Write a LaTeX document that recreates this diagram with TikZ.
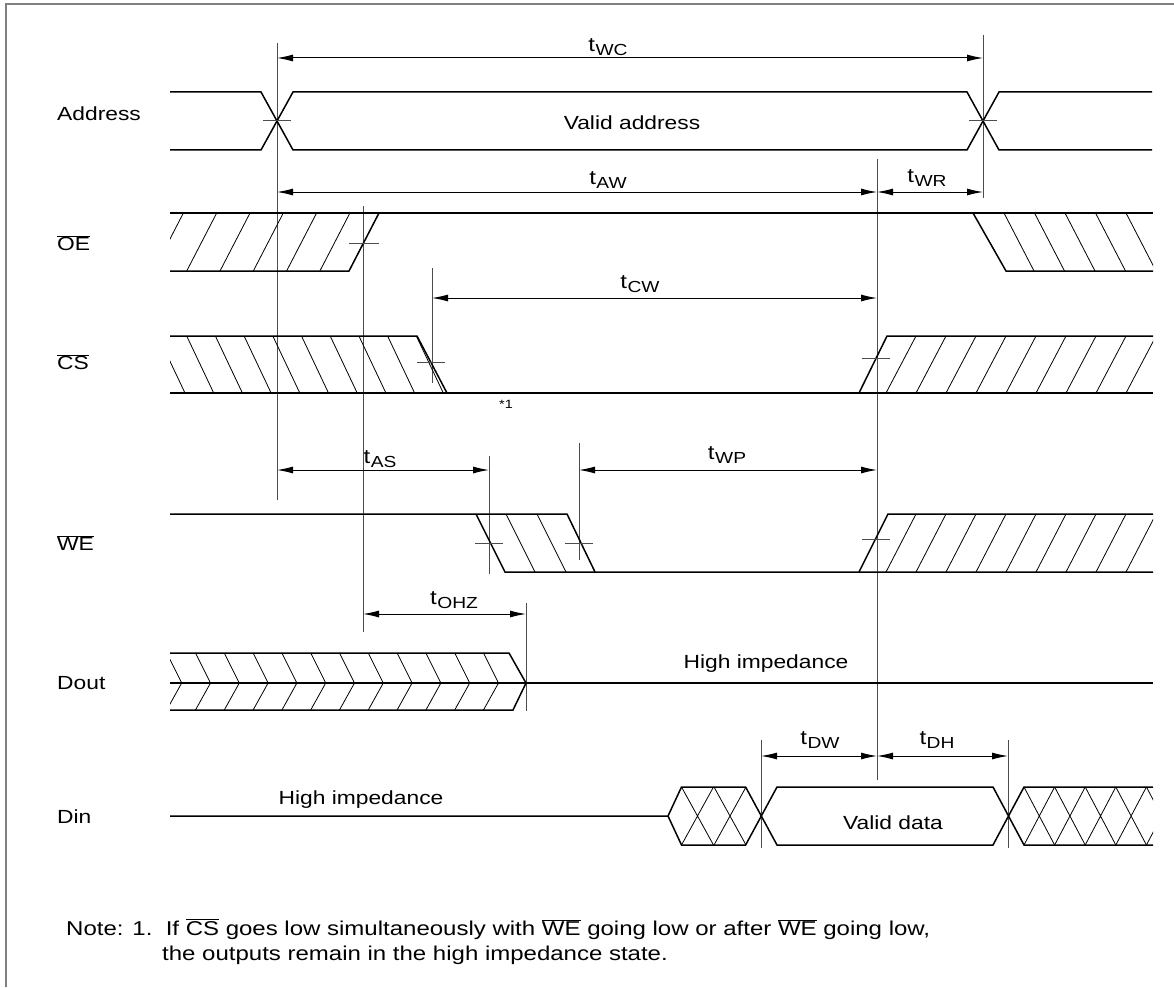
\documentclass[tikz,border=0pt]{standalone}
\usepackage{fontspec}
\setmainfont{Liberation Sans}[FakeStretch=1.2]
\usetikzlibrary{arrows.meta}
\tikzset{
	sig/.style={line width=1.5pt, line join=miter},
	hatch/.style={line width=0.8pt},
	guide/.style={line width=1pt, black!70},
	tick/.style={line width=1pt, black!70},
	dim/.style={line width=1pt, {Latex[length=16pt,width=7pt]}-{Latex[length=16pt,width=7pt]}},
	lbl/.style={anchor=west, inner sep=0pt, font=\fontsize{19}{19}\selectfont},
	txt/.style={inner sep=0pt, font=\fontsize{19}{19}\selectfont},
	notetxt/.style={anchor=base west, inner sep=0pt, font=\fontsize{20}{20}\selectfont},
	frame/.style={line width=1.2pt, black!50}
}
\newcommand{\tlab}[1]{{\fontsize{20}{20}\selectfont t}\kern0.5pt\raisebox{-0.35ex}{\fontsize{16}{16}\selectfont #1}}
\newcommand{\ovl}[1]{$\overline{\mbox{#1}}$}
\begin{document}
\begin{tikzpicture}[x=1pt,y=-1pt]
		\useasboundingbox (0,0) rectangle (1174,987);
		% рамка
		\draw [frame] ( 6, 987 ) -- ( 6, 4 ) -- ( 1174, 4 );

		% вертикальные линии отсчета
		\draw [guide] ( 277, 43 ) -- ( 277, 500 );
		\draw [guide] ( 983, 35 ) -- ( 983, 198 );
		\draw [guide] ( 877, 159 ) -- ( 877, 780 );
		\draw [guide] ( 363, 206 ) -- ( 363, 632 );
		\draw [guide] ( 432, 268 ) -- ( 432, 383 );
		\draw [guide] ( 489, 456 ) -- ( 489, 574 );
		\draw [guide] ( 579, 443 ) -- ( 579, 560 );
		\draw [guide] ( 526, 603 ) -- ( 526, 711 );
		\draw [guide] ( 761, 740 ) -- ( 761, 848 );
		\draw [guide] ( 1008, 740 ) -- ( 1008, 848 );

		% Address
		\node [lbl] (laddr) at ( 57, 114 ) {Address};
		\draw [sig] ( 170, 92 ) -- ( 261, 92 ) -- ( 293, 150 ) -- ( 967, 150 ) -- ( 999, 92 ) -- ( 1152, 92 );
		\draw [sig] ( 170, 150 ) -- ( 261, 150 ) -- ( 293, 92 ) -- ( 967, 92 ) -- ( 999, 150 ) -- ( 1152, 150 );
		\draw [tick] ( 263, 121 ) -- ( 291, 121 );
		\draw [tick] ( 969, 121 ) -- ( 997, 121 );
		\node [txt] (vaddr) at ( 632, 123 ) {Valid address};

		% OE
		\node [lbl] (loe) at ( 57, 243 ) {\ovl{OE}};
		\draw [sig] ( 170, 213 ) -- ( 1153, 213 );
		\draw [sig] ( 379, 213 ) -- ( 349, 271 ) -- ( 170, 271 );
		\draw [sig] ( 973, 213 ) -- ( 1006, 271 ) -- ( 1153, 271 );
		\begin{scope}
			\clip ( 170, 213 ) -- ( 379, 213 ) -- ( 349, 271 ) -- ( 170, 271 ) -- cycle;
			\foreach \x in {153.4,186.7,...,360} \draw [hatch] ( \x, 271 ) -- ++( 30, -58 );
		\end{scope}
		\begin{scope}
			\clip ( 973, 213 ) -- ( 1153, 213 ) -- ( 1153, 271 ) -- ( 1006, 271 ) -- cycle;
			\foreach \x in {1004,1034.5,...,1160} \draw [hatch] ( \x, 213 ) -- ++( 30, 58 );
		\end{scope}
		\draw [tick] ( 349, 243 ) -- ( 379, 243 );

		% CS
		\node [lbl] (lcs) at ( 57, 362 ) {\ovl{CS}};
		\draw [sig] ( 170, 336 ) -- ( 417, 336 ) -- ( 447, 393 );
		\draw [sig] ( 170, 393 ) -- ( 1153, 393 );
		\draw [sig] ( 859, 393 ) -- ( 887, 336 ) -- ( 1153, 336 );
		\begin{scope}
			\clip ( 170, 336 ) -- ( 417, 336 ) -- ( 447, 393 ) -- ( 170, 393 ) -- cycle;
			\foreach \x in {129.3,158,...,420} \draw [hatch] ( \x, 336 ) -- ++( 27, 57 );
		\end{scope}
		\begin{scope}
			\clip ( 859, 393 ) -- ( 887, 336 ) -- ( 1153, 336 ) -- ( 1153, 393 ) -- cycle;
			\foreach \x in {856,886,...,1160} \draw [hatch] ( \x, 393 ) -- ++( 30, -57 );
		\end{scope}
		\draw [tick] ( 417, 362 ) -- ( 445, 362 );
		\draw [tick] ( 862, 358 ) -- ( 890, 358 );
		\node [font=\fontsize{12}{12}\selectfont, inner sep=0pt] (note1) at ( 506, 404 ) {*1};

		% WE
		\node [lbl] (lwe) at ( 57, 543 ) {\ovl{WE}};
		\draw [sig] ( 170, 514 ) -- ( 567, 514 ) -- ( 595, 572 );
		\draw [sig] ( 476, 514 ) -- ( 505, 572 ) -- ( 1153, 572 );
		\draw [sig] ( 859, 572 ) -- ( 888, 514 ) -- ( 1153, 514 );
		\begin{scope}
			\clip ( 476, 514 ) -- ( 567, 514 ) -- ( 595, 572 ) -- ( 505, 572 ) -- cycle;
			\foreach \x in {506,537} \draw [hatch] ( \x, 514 ) -- ++( 29, 58 );
		\end{scope}
		\begin{scope}
			\clip ( 859, 572 ) -- ( 888, 514 ) -- ( 1153, 514 ) -- ( 1153, 572 ) -- cycle;
			\foreach \x in {856,886,...,1160} \draw [hatch] ( \x, 572 ) -- ++( 30, -58 );
		\end{scope}
		\draw [tick] ( 475, 543 ) -- ( 503, 543 );
		\draw [tick] ( 565, 543 ) -- ( 593, 543 );
		\draw [tick] ( 862, 539 ) -- ( 890, 539 );

		% Dout
		\node [lbl] (ldout) at ( 57, 683 ) {Dout};
		\draw [sig] ( 170, 653 ) -- ( 509, 653 ) -- ( 526, 683 ) -- ( 513, 710 ) -- ( 170, 710 );
		\draw [sig] ( 170, 683 ) -- ( 1153, 683 );
		\begin{scope}
			\clip ( 170, 645 ) rectangle ( 530, 718 );
			\foreach \x in {181.7,210.5,...,502} \draw [hatch] ( \x-15, 653 ) -- ( \x, 683 ) -- ( \x-15, 710 );
		\end{scope}
		\node [txt] (hzout) at ( 766, 664 ) {High impedance};

		% Din
		\node [lbl] (ldin) at ( 57, 817 ) {Din};
		\draw [sig] ( 170, 816 ) -- ( 668, 816 ) -- ( 681.5, 787 ) -- ( 745.6, 787 ) -- ( 777, 845 ) -- ( 993, 845 ) -- ( 1024, 787 ) -- ( 1153, 787 );
		\draw [sig] ( 668, 816 ) -- ( 681.5, 845 ) -- ( 745.6, 845 ) -- ( 777, 787 ) -- ( 993, 787 ) -- ( 1024, 845 ) -- ( 1153, 845 );
		\foreach \x in {681.5,714} \draw [hatch] ( \x, 787 ) -- ( \x+32, 845 ) ( \x+32, 787 ) -- ( \x, 845 );
		\begin{scope}
			\clip ( 1008, 780 ) rectangle ( 1153, 850 );
			\foreach \x in {1024,1054.6,...,1160} \draw [hatch] ( \x, 787 ) -- ++( 30.6, 58 ) ( \x+30.6, 787 ) -- ++( -30.6, 58 );
		\end{scope}
		\node [txt] (hzin) at ( 361, 800 ) {High impedance};
		\node [txt] (vdata) at ( 893, 823 ) {Valid data};

		% временные параметры
		\draw [dim] ( 277, 58 ) -- ( 983, 58 );
		\node [txt] (twc) at ( 608, 47 ) {\tlab{WC}};
		\draw [dim] ( 277, 192 ) -- ( 877, 192 );
		\node [txt] (taw) at ( 608, 180 ) {\tlab{AW}};
		\draw [dim] ( 877, 192 ) -- ( 983, 192 );
		\node [txt] (twr) at ( 927, 178 ) {\tlab{WR}};
		\draw [dim] ( 432, 298 ) -- ( 877, 298 );
		\node [txt] (tcw) at ( 640, 284 ) {\tlab{CW}};
		\draw [dim] ( 277, 470 ) -- ( 489, 470 );
		\node [txt] (tas) at ( 380, 459 ) {\tlab{AS}};
		\draw [dim] ( 579, 470 ) -- ( 877, 470 );
		\node [txt] (twp) at ( 727, 455 ) {\tlab{WP}};
		\draw [dim] ( 363, 614 ) -- ( 526, 614 );
		\node [txt] (tohz) at ( 454, 600 ) {\tlab{OHZ}};
		\draw [dim] ( 761, 756 ) -- ( 877, 756 );
		\node [txt] (tdw) at ( 820, 740 ) {\tlab{DW}};
		\draw [dim] ( 877, 756 ) -- ( 1008, 756 );
		\node [txt] (tdh) at ( 937, 740 ) {\tlab{DH}};

		% примечание
		\node [notetxt] (note) at ( 66, 935 ) {Note: 1.\ \ If \ovl{CS} goes low simultaneously with \ovl{WE} going low or after \ovl{WE} going low,};
		\node [notetxt] (note2) at ( 162, 960 ) {the outputs remain in the high impedance state.};
\end{tikzpicture}
\end{document}
